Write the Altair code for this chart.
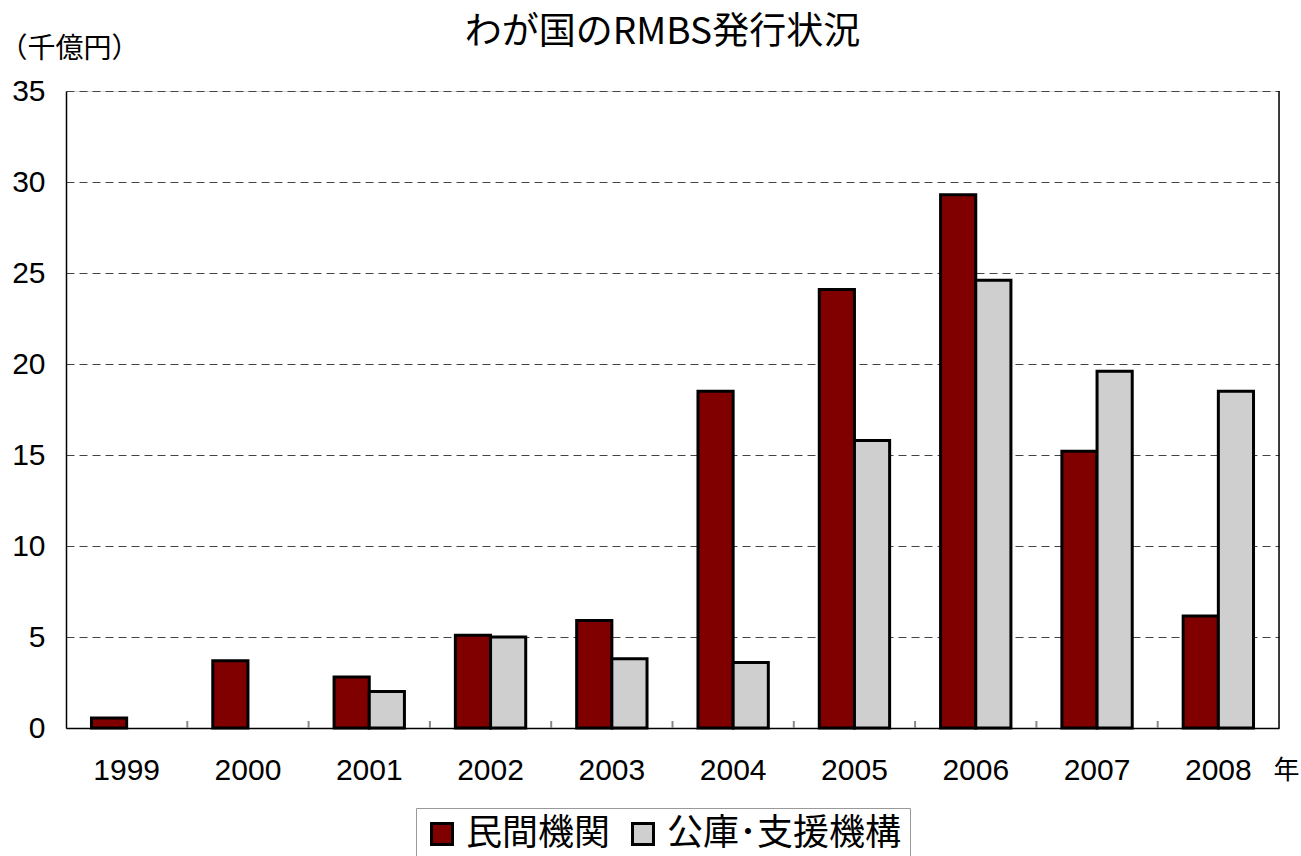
import altair as alt
import pandas as pd

years = ["1999", "2000", "2001", "2002", "2003", "2004", "2005", "2006", "2007", "2008"]
private = [0.55, 3.7, 2.8, 5.1, 5.9, 18.5, 24.1, 29.3, 15.2, 6.15]
public = [None, None, 2.0, 5.0, 3.8, 3.6, 15.8, 24.6, 19.6, 18.5]
series = ["民間機関", "公庫･支援機構"]
colors = ["#800000", "#CFCFCF"]
y_ticks = [0, 5, 10, 15, 20, 25, 30, 35]

rows = []
for yr, a, b in zip(years, private, public):
    if a is not None:
        rows.append({"year": yr, "series": series[0], "value": a})
    if b is not None:
        rows.append({"year": yr, "series": series[1], "value": b})
df = pd.DataFrame(rows)

boundaries = pd.DataFrame({"b": list(range(1, len(years)))})

W, H = 1213, 637
LAT = "Liberation Sans"
JP = "Noto Sans CJK JP"

bars = alt.Chart(df).mark_bar(stroke="black", strokeWidth=3).encode(
    x=alt.X("year:N", sort=years,
            scale=alt.Scale(domain=years, paddingInner=0.42, paddingOuter=0.21),
            axis=alt.Axis(title="年", titleFont=JP, titleFontSize=26, titleFontWeight="normal",
                          titleX=1220, titleY=42, titleAlign="center", titleBaseline="middle",
                          titleAngle=0,
                          labelFont=LAT, labelFontSize=30, labelColor="black", labelAngle=0,
                          labelPadding=27, ticks=False, domainColor="black", domainWidth=1.5,
                          grid=False)),
    xOffset=alt.XOffset("series:N", sort=series,
                        scale=alt.Scale(domain=series, paddingInner=0, paddingOuter=0)),
    y=alt.Y("value:Q", scale=alt.Scale(domain=[0, 35], nice=False),
            axis=alt.Axis(values=y_ticks, title="（千億円）", titleFont=JP, titleFontSize=28,
                          titleFontWeight="normal", titleAngle=0, titleX=-67, titleY=-42,
                          titleAlign="left", titleBaseline="middle",
                          labelFont=LAT, labelFontSize=30, labelColor="black", labelPadding=21,
                          ticks=False, domainColor="black", domainWidth=1.5,
                          grid=True, gridDash=[8, 5], gridColor="#444444", gridWidth=1)),
    color=alt.Color("series:N", sort=series,
                    scale=alt.Scale(domain=series, range=colors),
                    legend=alt.Legend(orient="none", legendX=350, legendY=717, direction="horizontal",
                                      title=None, labelFont=JP, labelFontSize=36, labelColor="black",
                                      labelLimit=500,
                                      symbolType="square", symbolSize=440, symbolStrokeColor="black",
                                      symbolStrokeWidth=3, symbolOpacity=1, strokeColor="#999999",
                                      padding=8, fillColor="white", columnPadding=14, labelOffset=6)),
)

ticks = alt.Chart(boundaries).mark_rule(color="#888888", strokeWidth=2).encode(
    x=alt.X("b:Q", scale=alt.Scale(domain=[0, len(years)], nice=False), axis=None),
    y=alt.value(H - 7),
    y2=alt.value(H),
)

border = alt.Chart(pd.DataFrame({"a": [0]})).mark_rule(color="black", strokeWidth=1.5).encode(
    x=alt.value(W), y=alt.value(0), y2=alt.value(H)
)

chart = alt.layer(bars, ticks, border).resolve_scale(x="independent").properties(
    width=W, height=H,
    title=alt.TitleParams("わが国のRMBS発行状況", font=JP, fontSize=37, fontWeight="normal",
                          color="black", anchor="middle", offset=0, dx=-10, dy=17),
    padding={"left": 66, "top": 91, "right": 22, "bottom": 128},
    autosize=alt.AutoSizeParams(type="none"),
).configure_view(stroke=None).configure(background="white")

chart.save("out.html", embed_options={"renderer": "svg", "actions": False})
